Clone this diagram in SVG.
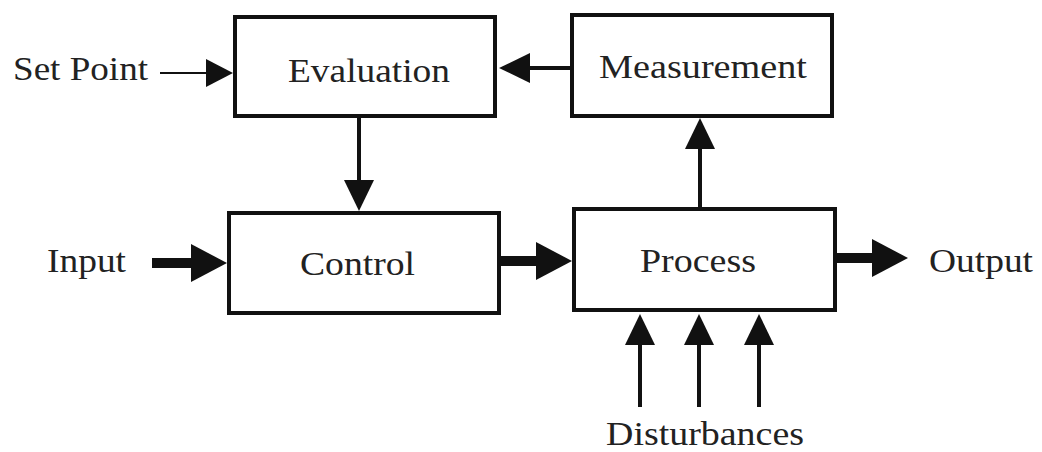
<svg xmlns="http://www.w3.org/2000/svg" width="1042" height="452" viewBox="0 0 1042 452">
<style>
.box{fill:#fff;stroke:#111;stroke-width:4}
.lbl{font-family:"Liberation Serif","Times New Roman",serif;font-size:33px;fill:#222}
.thin{stroke:#111;stroke-width:2;fill:none}
.med{stroke:#111;stroke-width:4;fill:none}
.thick{stroke:#111;stroke-width:10;fill:none}
</style>
<defs>
<marker id="aThin" markerUnits="userSpaceOnUse" markerWidth="27" markerHeight="28" refX="1" refY="14" orient="auto"><path d="M0,0 L27,14 L0,28 z" fill="#111"/></marker>
<marker id="aMed" markerUnits="userSpaceOnUse" markerWidth="31" markerHeight="30" refX="1" refY="15" orient="auto"><path d="M0,0 L31,15 L0,30 z" fill="#111"/></marker>
<marker id="aBig" markerUnits="userSpaceOnUse" markerWidth="36" markerHeight="38" refX="1" refY="19" orient="auto"><path d="M0,0 L36,19 L0,38 z" fill="#111"/></marker>
</defs>
<rect width="1042" height="452" fill="#fff"/>
<g id="connectors">
<line class="thin" x1="160" y1="73" x2="207" y2="73" marker-end="url(#aThin)"/>
<line class="med" x1="359" y1="118" x2="359" y2="181" marker-end="url(#aMed)"/>
<line class="med" x1="572" y1="68" x2="529" y2="68" marker-end="url(#aMed)"/>
<line class="med" x1="700" y1="208" x2="700" y2="148" marker-end="url(#aMed)"/>
<line class="thick" x1="152" y1="263" x2="192" y2="263" marker-end="url(#aBig)"/>
<line class="thick" x1="500" y1="261" x2="537" y2="261" marker-end="url(#aBig)"/>
<line class="thick" x1="836" y1="258" x2="873" y2="258" marker-end="url(#aBig)"/>
<line class="med" x1="640" y1="407" x2="640" y2="344" marker-end="url(#aMed)"/>
<line class="med" x1="699" y1="407" x2="699" y2="344" marker-end="url(#aMed)"/>
<line class="med" x1="759" y1="407" x2="759" y2="344" marker-end="url(#aMed)"/>
</g>
<g id="evaluation"><rect class="box" x="235" y="17" width="260" height="99"/><text class="lbl" x="288" y="82" textLength="162" lengthAdjust="spacingAndGlyphs">Evaluation</text></g>
<g id="measurement"><rect class="box" x="572" y="15" width="260" height="101"/><text class="lbl" x="599" y="78" textLength="208" lengthAdjust="spacingAndGlyphs">Measurement</text></g>
<g id="control"><rect class="box" x="229" y="213" width="270" height="100"/><text class="lbl" x="300" y="275" textLength="115" lengthAdjust="spacingAndGlyphs">Control</text></g>
<g id="process"><rect class="box" x="574" y="209" width="261" height="101"/><text class="lbl" x="640" y="272" textLength="116" lengthAdjust="spacingAndGlyphs">Process</text></g>
<g id="setpoint"><text class="lbl" x="13" y="80" textLength="135" lengthAdjust="spacingAndGlyphs">Set Point</text></g>
<g id="input"><text class="lbl" x="47" y="272" textLength="79" lengthAdjust="spacingAndGlyphs">Input</text></g>
<g id="output"><text class="lbl" x="929" y="272" textLength="104" lengthAdjust="spacingAndGlyphs">Output</text></g>
<g id="disturbances"><text class="lbl" x="606" y="445" textLength="198" lengthAdjust="spacingAndGlyphs">Disturbances</text></g>
</svg>
